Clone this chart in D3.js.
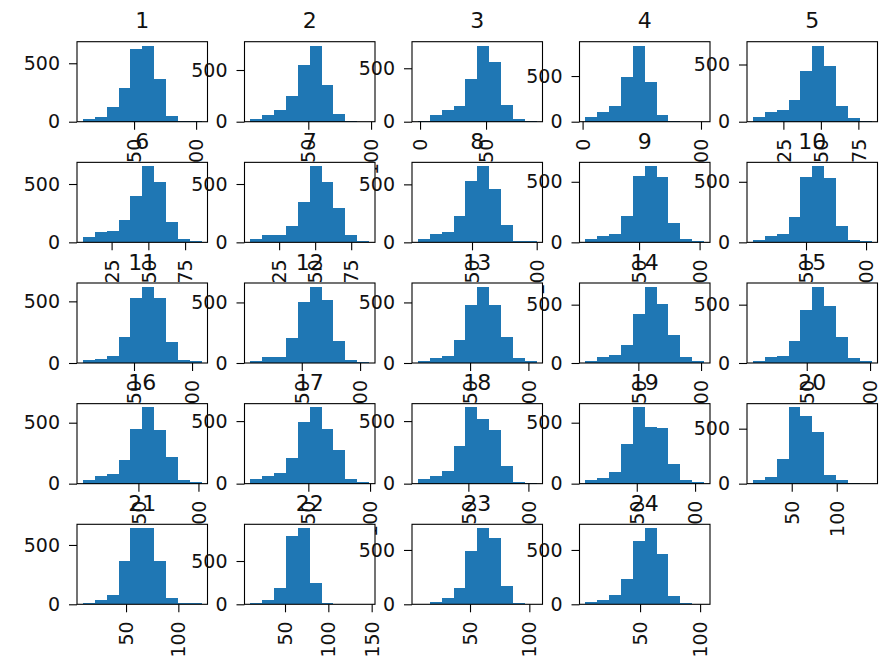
<!DOCTYPE html>
<html>
<head>
<meta charset="utf-8">
<title>Histograms 1-24</title>
<script src="https://d3js.org/d3.v7.min.js"></script>
<style>
  body { margin: 0; background: #ffffff; }
  svg { display: block; font-family: "DejaVu Sans", sans-serif; }
</style>
</head>
<body>
<svg width="884" height="666"></svg>
<script>
// one histogram per column, 10 bins each
const titles = ["1","2","3","4","5","6","7","8","9","10","11","12",
                "13","14","15","16","17","18","19","20","21","22","23","24"];
const binLo = [8.8, 3.9, -1.6, 2.4, 4.7, 5.5, 5.1, 8.2, 5.7, 5.8, 6.0, 6.0,
               5.3, 7.8, 7.5, 3.8, 3.1, 8.0, 6.0, 6.9, 8.8, 10.1, 6.1, 4.5];
const binHi = [104.4, 98.4, 88.3, 102.6, 83.8, 86.2, 87.4, 99.9, 103.7, 104.6, 108.2, 107.7,
               107.0, 102.4, 101.2, 102.6, 99.2, 106.8, 107.7, 138.7, 122.2, 147.0, 106.1, 103.3];
const counts = [
  [23, 43, 128, 285, 622, 652, 368, 49, 5, 2],
  [30, 62, 112, 250, 550, 737, 355, 78, 5, 1],
  [3, 62, 109, 147, 397, 713, 562, 156, 22, 3],
  [55, 110, 172, 485, 834, 438, 73, 3, 1, 1],
  [44, 88, 103, 191, 441, 666, 485, 138, 29, 3],
  [43, 86, 100, 194, 400, 653, 514, 177, 29, 14],
  [29, 66, 66, 143, 349, 653, 520, 291, 66, 14],
  [28, 72, 86, 230, 532, 657, 460, 149, 15, 9],
  [27, 49, 69, 220, 550, 629, 536, 157, 27, 14],
  [22, 49, 69, 206, 541, 629, 530, 137, 22, 14],
  [22, 35, 59, 211, 527, 618, 527, 170, 22, 14],
  [19, 47, 47, 206, 500, 629, 517, 179, 22, 11],
  [19, 40, 55, 192, 481, 629, 481, 214, 41, 14],
  [20, 51, 66, 157, 420, 653, 506, 237, 51, 14],
  [20, 49, 63, 186, 451, 653, 491, 223, 43, 14],
  [27, 63, 77, 194, 451, 625, 440, 221, 30, 16],
  [40, 61, 88, 202, 495, 609, 439, 266, 34, 16],
  [34, 61, 101, 301, 609, 519, 429, 141, 13, 8],
  [27, 49, 96, 322, 625, 464, 453, 158, 30, 14],
  [33, 61, 221, 693, 615, 470, 76, 33, 3, 1],
  [8, 37, 79, 368, 642, 642, 368, 51, 14, 8],
  [12, 50, 185, 788, 880, 250, 12, 2, 1, 1],
  [5, 20, 55, 147, 494, 701, 607, 169, 16, 3],
  [25, 40, 86, 230, 583, 701, 463, 77, 9, 3]
];
const xTicks = [
  [50, 100], [50, 100], [0, 50], [0, 100], [25, 50, 75],
  [25, 50, 75], [25, 50, 75], [50, 100], [50, 100], [50, 100],
  [50, 100], [50, 100], [50, 100], [50, 100], [50, 100],
  [50, 100], [50, 100], [50, 100], [50, 100], [50, 100],
  [50, 100], [50, 100, 150], [50, 100], [50, 100]
];
const yTicks = [0, 500];

const svg = d3.select("svg");
svg.append("rect").attr("width", 884).attr("height", 666).attr("fill", "#ffffff");

const W = 130.5, H = 80;
const tickLen = 8, tickPad = 9;
const colX = i => 77 + 167.5 * (i % 5);
const rowY = i => 41.7 + 120.65 * Math.floor(i / 5);

titles.forEach((t, i) => {
    let g = svg.append("g").attr("transform", `translate(${colX(i)},${rowY(i)})`);
    let lo = binLo[i], hi = binHi[i], margin = (hi - lo) * 0.05;
    let step = (hi - lo) / counts[i].length;

    let x = d3.scaleLinear().domain([lo - margin, hi + margin]).range([0, W]);
    let y = d3.scaleLinear().domain([0, d3.max(counts[i]) * 1.05]).range([H, 0]);

    // axes face, covers labels of earlier panels like matplotlib does
    g.append("rect").attr("width", W).attr("height", H).attr("fill", "#ffffff");

    g.selectAll(".bar")
        .data(counts[i])
        .join("rect")
        .attr("class", "bar")
        .attr("x", (d, j) => x(lo + j * step))
        .attr("width", (d, j) => x(lo + (j + 1) * step) - x(lo + j * step))
        .attr("y", d => y(d))
        .attr("height", d => H - y(d))
        .attr("fill", "#1f77b4")
        .attr("shape-rendering", "crispEdges");

    g.append("rect")
        .attr("width", W).attr("height", H)
        .attr("fill", "none").attr("stroke", "#000").attr("stroke-width", 1.1);

    let xa = g.append("g")
        .attr("transform", `translate(0,${H})`)
        .call(d3.axisBottom(x).tickValues(xTicks[i]).tickSize(tickLen).tickPadding(tickPad).tickSizeOuter(0));
    xa.select(".domain").remove();
    xa.selectAll("line").attr("stroke-width", 1.1);
    xa.selectAll("text")
        .attr("transform", "rotate(-90)")
        .attr("text-anchor", "end")
        .attr("x", -(tickLen + tickPad))
        .attr("y", 0)
        .attr("dy", "0.35em");

    let ya = g.append("g")
        .call(d3.axisLeft(y).tickValues(yTicks).tickSize(tickLen).tickPadding(tickPad).tickSizeOuter(0));
    ya.select(".domain").remove();
    ya.selectAll("line").attr("stroke-width", 1.1);

    [xa, ya].forEach(a => a
        .attr("font-family", "DejaVu Sans, sans-serif")
        .attr("font-size", 19)
        .selectAll("text").attr("fill", "#111"));

    g.append("text")
        .attr("x", W / 2)
        .attr("y", -13.5)
        .attr("text-anchor", "middle")
        .attr("font-size", 22)
        .attr("fill", "#111")
        .text(t);
});
</script>
</body>
</html>
